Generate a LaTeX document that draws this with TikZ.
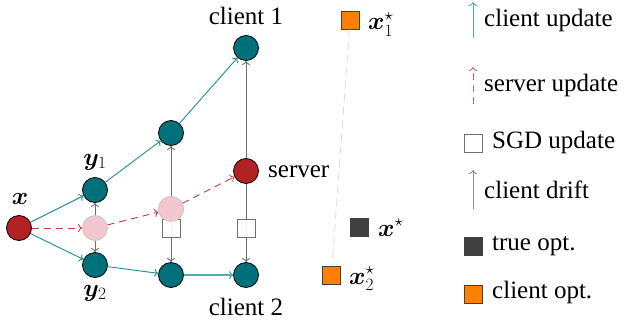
\documentclass[tikz,border=0pt]{standalone}
\usepackage{amsmath,bm}
\usepackage{fontspec}
\setmainfont{Liberation Serif}
\usetikzlibrary{arrows.meta}
\definecolor{tealn}{RGB}{0,112,122}
\definecolor{teale}{RGB}{30,140,152}
\definecolor{tealc}{RGB}{90,170,180}
\definecolor{redn}{RGB}{178,34,34}
\definecolor{rede}{RGB}{205,60,60}
\definecolor{pinkn}{RGB}{242,200,206}
\definecolor{pinkd}{RGB}{200,200,200}
\definecolor{lined}{RGB}{215,215,215}
\definecolor{grayd}{RGB}{110,110,110}
\definecolor{orangen}{RGB}{255,128,0}
\definecolor{darkn}{RGB}{64,64,64}
\tikzset{
  cnode/.style={circle,draw=black,fill=tealn,minimum size=25pt,inner sep=0pt,line width=0.8pt},
  rnode/.style={cnode,fill=redn},
  pnode/.style={circle,draw=pinkd,fill=pinkn,minimum size=25pt,inner sep=0pt,line width=0.8pt},
  sgdbox/.style={rectangle,draw=grayd,fill=white,fill opacity=0.92,draw opacity=1,minimum size=18pt,inner sep=0pt,line width=0.8pt},
  optbox/.style={rectangle,draw=darkn,minimum size=18pt,inner sep=0pt,line width=0.8pt},
  tip/.style={-{To[length=4pt,width=8pt]}},
  cupd/.style={tip,draw=teale,line width=0.9pt},
  supd/.style={tip,draw=rede,line width=0.9pt,dash pattern=on 7pt off 5pt},
  drift/.style={tip,draw=grayd,line width=0.9pt},
  lbl/.style={inner sep=0pt,anchor=base},
}
\begin{document}
\begin{tikzpicture}[x=1pt,y=-1pt,font=\fontsize{25}{30}\selectfont]
\useasboundingbox (0,0) rectangle (627,324);
\node[pnode] (p1) at (95,228) {};
\node[pnode] (p2) at (171,209) {};
\node[cnode] (y1) at (95,190) {};
\node[cnode] (y2) at (95,265) {};
\node[cnode] (m1) at (171,133) {};
\node[cnode] (m2) at (171,275) {};
\node[cnode] (c1) at (246,48) {};
\node[rnode] (sv) at (246,171) {};
\node[cnode] (c2) at (246,275) {};
\node[rnode] (x) at (19,228) {};
% drift
\draw[drift] (p1) -- (y1);
\draw[drift] (p1) -- (y2);
\draw[drift] (p2) -- (m1);
\draw[drift] (p2) -- (m2);
\draw[drift] (sv) -- (c1);
\draw[drift] (sv) -- (c2);
\node[sgdbox] (s1) at (171,228) {};
\node[sgdbox] (s2) at (246,228) {};
\node[pnode] at (p2) {};
% client updates
\draw[cupd] (x) -- (y1);
\draw[cupd] (x) -- (y2);
\draw[cupd] (y1) -- (m1);
\draw[cupd] (m1) -- (c1);
\draw[cupd] (y2) -- (m2);
\draw[cupd,draw=tealc,line width=1.4pt] (m2) -- (c2);
% server updates
\draw[supd] (x) -- (p1);
\draw[supd] (p1) -- (p2);
\draw[supd] (p2) -- (sv);
% labels
\node[lbl] (lc1) at (246,24) {client 1};
\node[lbl] (lc2) at (246,315) {client 2};
\node[lbl,anchor=base west] (lsv) at (268,177) {server};
\node[lbl] (ly1) at (95,165) {$\bm{y}_1$};
\node[lbl] (ly2) at (95,296) {$\bm{y}_2$};
\node[lbl] (lx) at (20,204) {$\bm{x}$};
% optima
\node[optbox,fill=orangen] (o1) at (350,20) {};
\node[optbox,fill=darkn] (o) at (359.5,227.5) {};
\node[optbox,fill=orangen] (o2) at (331.5,275) {};
\draw[draw=lined,dash pattern=on 8pt off 5pt,line width=0.7pt] (o1) -- (o2);
\node[lbl,anchor=base west] (lo1) at (368,30) {$\bm{x}_1^\star$};
\node[lbl,anchor=base west] (lo) at (378,236) {$\bm{x}^\star$};
\node[lbl,anchor=base west] (lo2) at (349,284) {$\bm{x}_2^\star$};
% legend
\coordinate (a1) at (473,38); \coordinate (b1) at (473,2);
\draw[cupd,draw=tealc] (a1) -- (b1);
\node[lbl,anchor=base west] (t1) at (484,26) {client update};
\coordinate (a2) at (473,104); \coordinate (b2) at (473,67);
\draw[supd,draw=rede!80] (a2) -- (b2);
\node[lbl,anchor=base west] (t2) at (484,91) {server update};
\node[sgdbox] (g3) at (473,143) {};
\node[lbl,anchor=base west] (t3) at (492,148) {SGD update};
\coordinate (a4) at (473,209); \coordinate (b4) at (473,170);
\draw[drift,draw=grayd!80] (a4) -- (b4);
\node[lbl,anchor=base west] (t4) at (484,198) {client drift};
\node[optbox,fill=darkn] (g5) at (473,246) {};
\node[lbl,anchor=base west] (t5) at (492,250) {true opt.};
\node[optbox,fill=orangen] (g6) at (473,294) {};
\node[lbl,anchor=base west] (t6) at (492,298) {client opt.};
\end{tikzpicture}
\end{document}
